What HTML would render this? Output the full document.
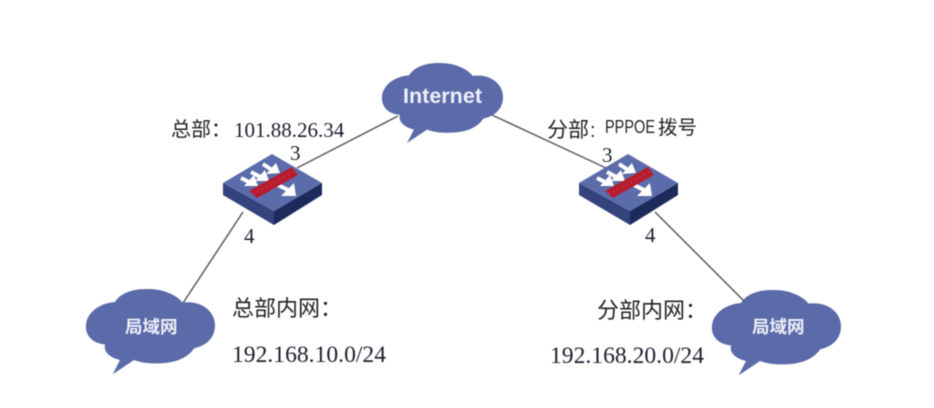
<!DOCTYPE html>
<html>
<head>
<meta charset="utf-8">
<style>
html,body{margin:0;padding:0;background:#fff}
svg{display:block;filter:blur(.4px)}
.c{font-family:"Liberation Sans","Noto Sans CJK SC",sans-serif;fill:#222}
.n{font-family:"Liberation Serif","Noto Serif CJK SC",serif;fill:#1a1f2b}
.w{font-family:"Liberation Sans","Noto Sans CJK SC",sans-serif;font-weight:700;fill:#eef0f8}
</style>
</head>
<body>
<svg width="934" height="408" viewBox="0 0 934 408" xmlns="http://www.w3.org/2000/svg">
<defs>
<path id="cloud" d="M105 193C62 190 45 160 48 135C50 100 85 70 135 66C150 40 190 25 235 27C280 27 320 45 338 68C395 60 435 95 435 135C435 172 412 196 372 205C350 240 300 252 250 250C225 250 205 245 192 240L128 283L150 240C118 232 100 215 105 193Z" fill="#5b6aa9"/>
<g id="sw">
<polygon points="0,29 51,57 51,71 0,41" fill="#34437c"/>
<polygon points="99,29 51,57 51,71 99,41" fill="#1d2a5c"/>
<polygon points="49,0 99,29 51,57 0,29" fill="#5b6cab"/>
<g fill="none" stroke="#fff" stroke-width="4">
<path d="M18 24L30 30"/>
<path d="M28 18L41 25"/>
<path d="M40 10L52 18"/>
<path d="M55 31L67 37"/>
</g>
<g fill="#fff">
<polygon points="35,32 31,21 21,32"/>
<polygon points="46,27 42,16 32,27"/>
<polygon points="57,19 53,9 43,20"/>
<polygon points="73,42 71,29 58,42"/>
</g>
<polygon points="26,37 69,13 75,21 34,44" fill="#b71c2e"/>
<line x1="30" y1="40" x2="72" y2="17" stroke="#d9606a" stroke-width="1" stroke-dasharray="1 4"/>
</g>
</defs>

<g stroke="#5a5a5a" stroke-width="1.5" fill="none">
<line x1="398" y1="116" x2="297" y2="168"/>
<line x1="492" y1="115" x2="606" y2="168"/>
<line x1="243" y1="212" x2="183" y2="303"/>
<line x1="655" y1="212" x2="746" y2="303"/>
</g>

<use href="#cloud" transform="translate(367 54.6) scale(.3127 .3125)"/>
<use href="#cloud" transform="translate(70 280) scale(.3333)"/>
<use href="#cloud" transform="translate(696 281) scale(.3333)"/>

<use href="#sw" transform="translate(223 154)"/>
<use href="#sw" transform="translate(579 154)"/>

<text class="w" x="403" y="103" font-size="21" textLength="79" lengthAdjust="spacingAndGlyphs">Internet</text>
<text class="w" x="125" y="333" font-size="17.5">局域网</text>
<text class="w" x="752" y="333" font-size="17.5">局域网</text>

<text class="c" x="171" y="136" font-size="20">总部：</text>
<text class="n" x="234" y="137" font-size="21">101.88.26.34</text>
<text class="n" x="290" y="160" font-size="21">3</text>
<text class="n" x="244" y="243" font-size="21">4</text>

<text class="c" x="547" y="137" font-size="21">分部</text>
<text class="c" x="590" y="137" font-size="20">:</text>
<text class="c" x="605" y="133" font-size="18.5" textLength="50" lengthAdjust="spacingAndGlyphs">PPPOE</text>
<text class="c" x="658" y="134" font-size="19.5">拨号</text>
<text class="n" x="602" y="162" font-size="21">3</text>
<text class="n" x="645" y="242" font-size="21">4</text>

<text class="c" x="232" y="316" font-size="22">总部内网：</text>
<text class="n" x="232" y="362" font-size="23.6">192.168.10.0/24</text>
<text class="c" x="597" y="318" font-size="22">分部内网：</text>
<text class="n" x="550" y="363" font-size="23.6">192.168.20.0/24</text>
</svg>
</body>
</html>
